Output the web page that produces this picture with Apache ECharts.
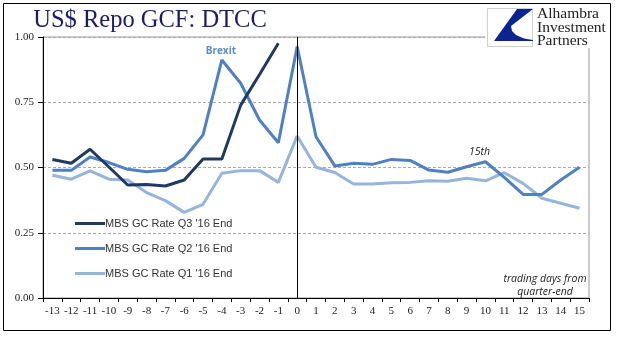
<!DOCTYPE html>
<html>
<head>
<meta charset="utf-8">
<script src="https://cdn.jsdelivr.net/npm/echarts@6/dist/echarts.min.js"></script>
<style>
  html, body { margin: 0; padding: 0; background: #fff; }
  #chart { width: 618px; height: 341px; }
</style>
</head>
<body>
<div id="chart"></div>
<script>
// Trading days relative to quarter-end
const days = ['-13','-12','-11','-10','-9','-8','-7','-6','-5','-4','-3','-2','-1',
              '0','1','2','3','4','5','6','7','8','9','10','11','12','13','14','15'];

// MBS GC repo rates (%), by quarter
const q3Rates = [0.531, 0.516, 0.570, 0.502, 0.433, 0.435, 0.429, 0.452, 0.533, 0.533, 0.739, 0.856, 0.976,
                 null, null, null, null, null, null, null, null, null, null, null, null, null, null, null, null];
const q2Rates = [0.489, 0.489, 0.540, 0.519, 0.493, 0.484, 0.489, 0.535, 0.625, 0.912, 0.823, 0.682, 0.595,
                 0.963, 0.618, 0.506, 0.516, 0.512, 0.531, 0.527, 0.490, 0.482, 0.503, 0.522, 0.462, 0.397, 0.397, 0.452, 0.501];
const q1Rates = [0.470, 0.455, 0.487, 0.455, 0.452, 0.404, 0.373, 0.328, 0.359, 0.478, 0.488, 0.488, 0.443,
                 0.621, 0.501, 0.481, 0.437, 0.437, 0.442, 0.443, 0.449, 0.447, 0.459, 0.449, 0.480, 0.439, 0.382, 0.363, 0.344];

const seriesNames = ["MBS GC Rate Q3 '16 End", "MBS GC Rate Q2 '16 End", "MBS GC Rate Q1 '16 End"];
const colors = ['#1f3a60', '#4f81c2', '#95b5dc'];

const chart = echarts.init(document.getElementById('chart'), null, { renderer: 'canvas' });

// Notes pinned to points on the Q2 line
const noteAt = (day, text, style) => {
  const i = days.indexOf(day);
  return {
    coord: [i, q2Rates[i]], value: text,
    symbol: 'circle', symbolSize: 1, itemStyle: { color: 'rgba(0,0,0,0)' },
    label: Object.assign({ show: true, position: 'top', formatter: text,
      fontFamily: 'Open Sans', fontSize: 10.5 }, style)
  };
};

const lineSeries = (name, data, color, z) => ({
  name, type: 'line', data, z,
  symbol: 'none', connectNulls: false,
  lineStyle: { color, width: 3 },
  itemStyle: { color },
  emphasis: { disabled: true },
  animation: false
});

const option = {
  animation: false,
  grid: { left: 43, right: 29, top: 37, bottom: 43, show: true, borderColor: '#999', borderWidth: 1 },
  legend: {
    orient: 'vertical', left: 70, top: 213, itemGap: 14,
    itemWidth: 30, itemHeight: 3, icon: 'rect',
    selectedMode: false,
    textStyle: { fontFamily: 'Liberation Sans', fontSize: 11, color: '#333', padding: [0, 0, 0, -5] },
    data: seriesNames
  },
  xAxis: {
    type: 'category', data: days, boundaryGap: true,
    axisLine: { lineStyle: { color: '#000', width: 1 } },
    axisTick: { show: true, length: 4, alignWithLabel: false, interval: 0, lineStyle: { color: '#000' } },
    axisLabel: { interval: 0, margin: 8, fontFamily: 'Liberation Serif', fontSize: 11, color: '#222' },
    splitLine: { show: false }
  },
  yAxis: {
    type: 'value', min: 0, max: 1, interval: 0.25,
    axisLine: { show: true, lineStyle: { color: '#000', width: 1 } },
    axisTick: { show: true, length: 5, lineStyle: { color: '#000' } },
    axisLabel: { formatter: v => v.toFixed(2), margin: 9, fontFamily: 'Liberation Serif', fontSize: 11, color: '#222' },
    splitLine: { show: true, lineStyle: { color: '#aaa', type: [3, 2], width: 1 } }
  },
  series: [
    Object.assign(lineSeries(seriesNames[0], q3Rates, colors[0], 4), {
      markLine: {
        silent: true, symbol: 'none', label: { show: false },
        lineStyle: { color: '#000', width: 1, type: 'solid' },
        data: [{ xAxis: days.indexOf('0') }],
        animation: false
      }
    }),
    Object.assign(lineSeries(seriesNames[1], q2Rates, colors[1], 3), {
      markPoint: {
        silent: true, animation: false,
        data: [
          noteAt('-4', 'Brexit', { color: '#5b8bc9', fontWeight: 'bold', fontSize: 10, distance: 3, offset: [-1, 0] }),
          noteAt('10', '15th', { color: '#222', fontStyle: 'italic', distance: 4, offset: [-6, 0] })
        ]
      }
    }),
    lineSeries(seriesNames[2], q1Rates, colors[2], 2)
  ],
  graphic: [
    // outer frame
    { type: 'rect', shape: { x: 3.5, y: 3.5, width: 607, height: 327 }, silent: true,
      style: { fill: null, stroke: '#000', lineWidth: 1 }, z: 100 },
    // title
    { type: 'text', x: 150, y: 21, silent: true, z: 100,
      style: { text: 'US$ Repo GCF: DTCC', fill: '#1b1b6e', font: '24.5px "Liberation Serif"',
        textAlign: 'center', textVerticalAlign: 'middle' } },
    // logo backdrop
    { type: 'rect', shape: { x: 485, y: 4, width: 125, height: 44 }, silent: true, z: 90,
      style: { fill: '#fff' } },
    { type: 'rect', shape: { x: 487.5, y: 8.5, width: 45, height: 38 }, silent: true, z: 91,
      style: { fill: '#fff', stroke: '#d0d0d0', lineWidth: 1 } },
    { type: 'polygon', silent: true, z: 92,
      shape: { points: [[517, 9], [533, 9], [511, 26], [512, 31], [516, 35], [524, 38.5], [533, 40], [533, 41], [494, 41]] },
      style: { fill: '#0c2490' } },
    { type: 'text', x: 537, y: 7.5, silent: true, z: 92,
      style: { text: 'Alhambra\nInvestment\nPartners', fill: '#222', font: '15.5px "Liberation Serif"',
        lineHeight: 13.5, textAlign: 'left', textVerticalAlign: 'top' } },
    // axis note
    { type: 'text', x: 545, y: 285.5, silent: true, z: 100,
      style: { text: 'trading days from\nquarter-end', fill: '#222', font: 'italic 10.5px "Open Sans"',
        lineHeight: 13.5, textAlign: 'center', textVerticalAlign: 'middle' } }
  ]
};

chart.setOption(option);
</script>
</body>
</html>
